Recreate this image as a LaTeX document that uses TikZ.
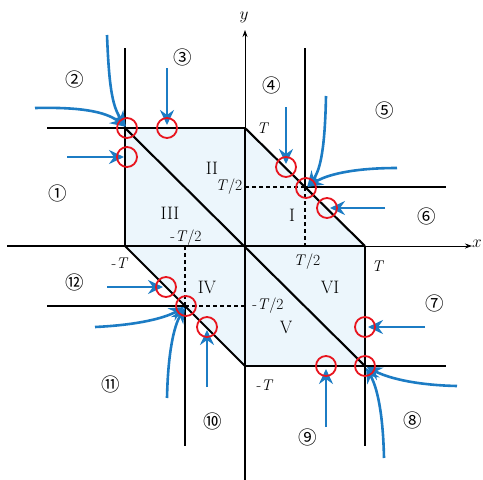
\documentclass[tikz,border=0pt]{standalone}
\usepackage{fontspec}
\newfontfamily\circfont{Noto Sans CJK SC}
\usetikzlibrary{arrows.meta}
\definecolor{hexfill}{RGB}{236,246,252}
\definecolor{flowblue}{RGB}{28,124,196}
\definecolor{markred}{RGB}{232,20,30}
\tikzset{
  bold/.style={line width=2.1pt,black},
  thinax/.style={line width=0.8pt,black,arrows={-Stealth[length=7pt,width=5pt]}},
  dashln/.style={line width=1.2pt,black,dash pattern=on 4pt off 3pt},
  flow/.style={line width=2.6pt,flowblue,arrows={-Stealth[length=15pt,width=14pt,inset=5pt]},shorten >=2pt},
  rc/.style={circle,draw=markred,line width=1.8pt,minimum size=20pt,inner sep=0pt},
  cnum/.style={font=\circfont\fontsize{18.5}{18.5}\selectfont,inner sep=0pt},
  roman/.style={font=\fontsize{18}{18}\selectfont,inner sep=0pt},
  tlab/.style={font=\fontsize{15.5}{15.5}\selectfont,inner sep=0pt}
}
\begin{document}
\begin{tikzpicture}[x=1pt,y=-1pt]
\useasboundingbox (0,0) rectangle (483,480);
% vertices
\coordinate (A) at (125,128);
\coordinate (B) at (245,128);
\coordinate (C) at (365,246);
\coordinate (D) at (365,366);
\coordinate (E) at (245,366);
\coordinate (F) at (125,246);
\coordinate (P) at (305,187);
\coordinate (Q) at (185,306);
\coordinate (O) at (245,246);
% fill
\fill[hexfill] (A)--(B)--(C)--(D)--(E)--(F)--cycle;
% axes
\coordinate (xs) at (7,246);
\coordinate (xe) at (472,246);
\coordinate (ys) at (245,480);
\coordinate (ye) at (245,30);
\draw[thinax] (C)--(xe);
\draw[thinax] (B)--(ye);
\draw[bold] (xs)--(C);
\draw[bold] (ys)--(B);
\node[font=\fontsize{19}{19}\selectfont,inner sep=0pt] (xl) at (477,244) {$x$};
\node[font=\fontsize{19}{19}\selectfont,inner sep=0pt] (yl) at (244,17) {$y$};
% boundary lines
\coordinate (a1) at (47,128);
\coordinate (a2) at (125,48);
\coordinate (p1) at (305,48);
\coordinate (p2) at (446,187);
\coordinate (d1) at (446,366);
\coordinate (d2) at (365,446);
\coordinate (q1) at (47,306);
\coordinate (q2) at (185,446);
\draw[bold] (a1)--(B);
\draw[bold] (a2)--(F);
\draw[bold] (p1)--(P)--(p2);
\draw[bold] (E)--(d1);
\draw[bold] (C)--(d2);
\draw[bold] (q1)--(Q)--(q2);
\draw[bold] (A)--(D);
\draw[bold] (B)--(C);
\draw[bold] (F)--(E);
% dashed
\coordinate (py) at (245,187);
\coordinate (px) at (305,246);
\coordinate (qx) at (185,246);
\coordinate (qy) at (245,306);
\draw[dashln] (P)--(py);
\draw[dashln] (P)--(px);
\draw[dashln] (Q)--(qx);
\draw[dashln] (Q)--(qy);
% red circle positions
\path (127,128) coordinate (k1) (127,157) coordinate (k2) (167,128) coordinate (k3)
      (286,167) coordinate (k4) (306,188) coordinate (k5) (327,208) coordinate (k6)
      (365,327) coordinate (k7) (365,366) coordinate (k8) (326,366) coordinate (k9)
      (207,327) coordinate (k10) (186,306) coordinate (k11) (166,287) coordinate (k12);
% flows
\coordinate (s2a) at (107,35);
\coordinate (s2b) at (35,108);
\coordinate (s2c) at (67,157);
\coordinate (s3) at (167,68);
\coordinate (s4) at (286,107);
\coordinate (s5a) at (326,96);
\coordinate (s5b) at (397,168);
\coordinate (s6) at (385,208);
\coordinate (s7) at (425,327);
\coordinate (s8a) at (457,386);
\coordinate (s8b) at (384,458);
\coordinate (s9) at (326,427);
\coordinate (s10) at (207,387);
\coordinate (s11a) at (95,327);
\coordinate (s11b) at (167,398);
\coordinate (s12) at (107,287);
\draw[flow] (s2a) .. controls (109,85) and (112,106) .. (k1);
\draw[flow] (s2b) .. controls (78,107) and (105,111) .. (k1);
\draw[flow,shorten >=3pt] (s2c) -- (k2);
\draw[flow,shorten >=3pt] (s3) -- (k3);
\draw[flow,shorten >=3pt] (s4) -- (k4);
\draw[flow] (s5a) .. controls (325,145) and (321,170) .. (k5);
\draw[flow] (s5b) .. controls (352,168) and (326,175) .. (k5);
\draw[flow,shorten >=3pt] (s6) -- (k6);
\draw[flow,shorten >=3pt] (s7) -- (k7);
\draw[flow] (s8a) .. controls (412,385) and (386,377) .. (k8);
\draw[flow] (s8b) .. controls (383,412) and (377,387) .. (k8);
\draw[flow,shorten >=3pt] (s9) -- (k9);
\draw[flow,shorten >=3pt] (s10) -- (k10);
\draw[flow] (s11a) .. controls (138,325) and (165,318) .. (k11);
\draw[flow] (s11b) .. controls (168,352) and (174,326) .. (k11);
\draw[flow,shorten >=3pt] (s12) -- (k12);
% red circles
\foreach \i in {1,...,12} \node[rc] (c\i) at (k\i) {};
% region numbers
\node[cnum] (n1) at (58,193) {①};
\node[cnum] (n2) at (75,79) {②};
\node[cnum] (n3) at (183,57) {③};
\node[cnum] (n4) at (272,85) {④};
\node[cnum] (n5) at (385,110) {⑤};
\node[cnum] (n6) at (427,216) {⑥};
\node[cnum] (n7) at (435,303) {⑦};
\node[cnum] (n8) at (413,420) {⑧};
\node[cnum] (n9) at (308,437) {⑨};
\node[cnum] (n10) at (213,421) {⑩};
\node[cnum] (n11) at (111,384) {⑪};
\node[cnum] (n12) at (75,282) {⑫};
% roman
\node[roman] (r1) at (292,215) {I};
\node[roman] (r2) at (212,168) {II};
\node[roman] (r3) at (170,213) {III};
\node[roman] (r4) at (207,287) {IV};
\node[roman] (r5) at (286,327) {V};
\node[roman] (r6) at (330,287) {VI};
% T labels
\node[tlab] (t1) at (263,128) {\textit{T}};
\node[tlab] (t2) at (229,187) {\textit{T}/2};
\node[tlab] (t3) at (186,238) {-\textit{T}/2};
\node[tlab] (t4) at (307,262) {\textit{T}/2};
\node[tlab] (t5) at (378,266) {\textit{T}};
\node[tlab] (t6) at (268,306) {-\textit{T}/2};
\node[tlab] (t7) at (120,263) {-\textit{T}};
\node[tlab] (t8) at (265,385) {-\textit{T}};
\end{tikzpicture}
\end{document}
